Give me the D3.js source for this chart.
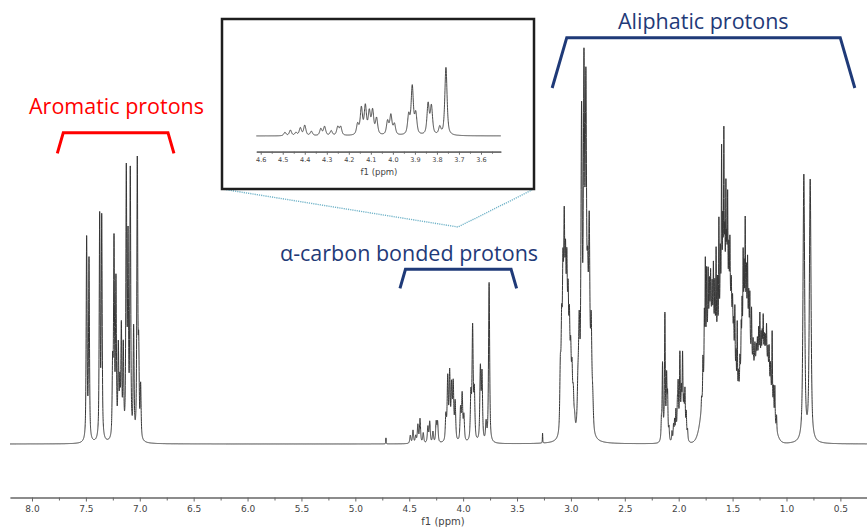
<!DOCTYPE html>
<html>
<head>
<meta charset="utf-8">
<script src="https://cdn.jsdelivr.net/npm/d3@7/dist/d3.min.js"></script>
<style>
	body { margin: 0; background: #fff; }
	svg { display: block; }
</style>
</head>
<body>
<div id="chart"></div>
<script>
// lines: [ppm, height, half width (ppm)]
const aromaticPeaks = [
	[7.493, 202, 0.005], [7.471, 180, 0.005],
	[7.372, 222, 0.005], [7.353, 220, 0.005],
	[7.252, 70, 0.005], [7.239, 194, 0.005], [7.221, 154, 0.005],
	[7.199, 88, 0.005], [7.185, 50, 0.005], [7.171, 108, 0.005], [7.153, 88, 0.005],
	[7.125, 262, 0.005], [7.109, 190, 0.005], [7.088, 264, 0.005],
	[7.057, 108, 0.005], [7.023, 276, 0.005], [7.010, 84, 0.005], [6.992, 52, 0.005]
];

const alphaPeaks = [
	[4.716, 6, 0.002],
	[4.490, 8, 0.006], [4.465, 13, 0.006], [4.440, 7, 0.006], [4.420, 18, 0.006],
	[4.400, 24, 0.006], [4.370, 10, 0.006], [4.327, 16, 0.006], [4.310, 21, 0.006],
	[4.280, 11, 0.006], [4.250, 20, 0.006], [4.237, 20, 0.006],
	[4.160, 25, 0.006], [4.143, 62, 0.006], [4.125, 66, 0.006], [4.107, 52, 0.006],
	[4.092, 55, 0.006], [4.074, 38, 0.006],
	[4.024, 32, 0.006], [4.009, 46, 0.006], [3.993, 25, 0.006],
	[3.928, 45, 0.006], [3.912, 112, 0.006], [3.896, 48, 0.006],
	[3.840, 72, 0.006], [3.825, 66, 0.006], [3.787, 18, 0.006], [3.759, 160, 0.006],
	[3.263, 10, 0.002]
];

const aliphaticPeaks = [
	// 3.06 multiplet
	[3.098, 62, 0.006], [3.086, 95, 0.006], [3.074, 140, 0.006], [3.062, 180, 0.006],
	[3.050, 140, 0.006], [3.038, 140, 0.006], [3.026, 112, 0.006], [3.014, 95, 0.006],
	[3.002, 70, 0.006], [2.990, 56, 0.006], [2.978, 36, 0.006], [2.966, 13, 0.006],
	// 2.88 multiplet
	[2.935, 40, 0.007], [2.923, 95, 0.007], [2.901, 305, 0.007], [2.879, 340, 0.007],
	[2.861, 318, 0.007], [2.845, 120, 0.007], [2.830, 190, 0.007], [2.812, 100, 0.007],
	[2.798, 30, 0.007],
	// 2.15 and 2.0 multiplets
	[2.160, 18, 0.004], [2.150, 70, 0.004], [2.128, 115, 0.004], [2.112, 55, 0.004],
	[2.103, 40, 0.004], [2.090, 12, 0.004],
	[2.062, 10, 0.004], [2.048, 15, 0.004], [2.038, 18, 0.004], [2.026, 25, 0.004],
	[2.012, 25, 0.004], [2.005, 42, 0.004], [1.989, 70, 0.004], [1.975, 32, 0.004],
	[1.964, 70, 0.004], [1.952, 28, 0.004], [1.942, 42, 0.004], [1.930, 24, 0.004],
	[1.918, 10, 0.004],
	// 1.8 - 1.1 envelope lines
	[1.788, 10, 0.003], [1.775, 35, 0.003], [1.762, 60, 0.003], [1.753, 100, 0.003],
	[1.741, 75, 0.003], [1.727, 60, 0.003], [1.715, 40, 0.003], [1.704, 45, 0.003],
	[1.690, 35, 0.003], [1.678, 60, 0.003], [1.665, 50, 0.003], [1.653, 90, 0.003],
	[1.640, 60, 0.003], [1.627, 110, 0.003], [1.614, 60, 0.003], [1.602, 145, 0.003],
	[1.591, 60, 0.003], [1.581, 150, 0.003], [1.572, 50, 0.003], [1.562, 105, 0.003],
	[1.554, 50, 0.003], [1.546, 100, 0.003], [1.535, 50, 0.003], [1.525, 60, 0.003],
	[1.512, 30, 0.003], [1.500, 30, 0.003], [1.490, 25, 0.003], [1.479, 60, 0.003],
	[1.468, 30, 0.003], [1.457, 70, 0.003], [1.445, 20, 0.003], [1.432, 25, 0.003],
	[1.420, 40, 0.003], [1.412, 50, 0.003], [1.402, 85, 0.003], [1.393, 60, 0.003],
	[1.383, 100, 0.003], [1.372, 50, 0.003], [1.361, 65, 0.003], [1.350, 40, 0.003],
	[1.340, 50, 0.003], [1.324, 50, 0.003], [1.310, 25, 0.003], [1.293, 20, 0.003],
	[1.280, 15, 0.003], [1.270, 20, 0.003], [1.258, 30, 0.003], [1.247, 45, 0.003],
	[1.235, 25, 0.003], [1.225, 25, 0.003], [1.216, 40, 0.003], [1.205, 20, 0.003],
	[1.195, 20, 0.003], [1.185, 35, 0.003], [1.172, 20, 0.003], [1.161, 30, 0.003],
	[1.147, 25, 0.003], [1.133, 70, 0.003], [1.120, 25, 0.003], [1.108, 35, 0.003],
	[1.092, 15, 0.003],
	// methyl doublet
	[0.839, 266, 0.009], [0.780, 261, 0.009]
];

// unresolved humps: [centre ppm, height, sigma (ppm)]
const broadBands = [
	[2.13, 12, 0.02], [1.98, 18, 0.03],
	[1.70, 125, 0.055], [1.59, 120, 0.03], [1.52, 130, 0.035],
	[1.375, 120, 0.045], [1.28, 40, 0.03], [1.20, 85, 0.055]
];

const mainTicks = [8.0, 7.5, 7.0, 6.5, 6.0, 5.5, 5.0, 4.5, 4.0, 3.5, 3.0, 2.5, 2.0, 1.5, 1.0, 0.5];
const insetTicks = [4.6, 4.5, 4.4, 4.3, 4.2, 4.1, 4.0, 3.9, 3.8, 3.7, 3.6];

const groups = [
	{ label: 'Aromatic protons', color: '#ff0000', from: 7.765, to: 6.683 },
	{ label: 'α-carbon bonded protons', color: '#1f3a78', from: 4.586, to: 3.504 },
	{ label: 'Aliphatic protons', color: '#1f3a78', from: 3.174, to: 0.366 }
];

window.onload = function() {

	const width = 867;
	const height = 529;

	const allPeaks = aromaticPeaks.concat(alphaPeaks, aliphaticPeaks);
	const lorentzShare = 0.65; // pseudo-Voigt mix, keeps the feet of the lines narrow

	function intensity(ppm) {
		let s = 0;
		allPeaks.forEach(p => {
			const d = ppm - p[0];
			const w2 = p[2] * p[2];
			const lor = w2 / (d * d + w2);
			const gau = Math.exp(-Math.LN2 * d * d / w2);
			s += p[1] * (lorentzShare * lor + (1 - lorentzShare) * gau);
		});
		broadBands.forEach(b => {
			const d = ppm - b[0];
			s += b[1] * Math.exp(-d * d / (2 * b[2] * b[2]));
		});
		return s;
	}

	function sample(from, to, step) {
		return d3.range(from, to, -step).map(p => [p, intensity(p)]);
	}

	const svg = d3.select('#chart')
		.append('svg')
		.attr('width', width)
		.attr('height', height)
		.style('font-family', 'DejaVu Sans, Verdana, sans-serif');

	// main spectrum
	const xScale = d3.scaleLinear()
		.domain([8.204, 0.253])
		.range([10, 867]);

	const yScale = d3.scaleLinear()
		.domain([0, 400])
		.range([444, 44]);

	const line = d3.line()
		.x(d => xScale(d[0]))
		.y(d => yScale(d[1]));

	svg.append('path')
		.attr('d', line(sample(8.204, 0.253, 0.0005)))
		.attr('fill', 'none')
		.attr('stroke', '#353535')
		.attr('stroke-width', 1);

	const axisY = 497.5;

	const minorAxis = d3.axisBottom(xScale)
		.tickValues(mainTicks.map(t => t - 0.25).filter(t => t > 0.3))
		.tickFormat('')
		.tickSize(3)
		.tickSizeOuter(0);

	svg.append('g')
		.attr('transform', `translate(0, ${axisY})`)
		.call(minorAxis);

	const xAxis = d3.axisBottom(xScale)
		.tickValues(mainTicks)
		.tickFormat(d3.format('.1f'))
		.tickSize(4)
		.tickPadding(4)
		.tickSizeOuter(0);

	svg.append('g')
		.attr('id', 'xAxisG')
		.attr('transform', `translate(0, ${axisY})`)
		.call(xAxis)
		.call(g => g.selectAll('text').attr('font-size', 9).attr('font-family', 'DejaVu Sans').attr('fill', '#444'));

	svg.selectAll('.domain').attr('stroke', '#666').attr('stroke-width', 1.3);
	svg.selectAll('.tick line').attr('stroke', '#666');

	svg.append('text')
		.attr('x', 443)
		.attr('y', 525)
		.attr('text-anchor', 'middle')
		.attr('font-size', 10)
		.attr('fill', '#444')
		.text('f1 (ppm)');

	// inset zoom on the alpha region
	const box = { x: 222, y: 19, w: 312, h: 170 };

	svg.append('polyline')
		.attr('points', `${box.x},${box.y + box.h} 458,227 ${box.x + box.w - 2},${box.y + box.h + 1}`)
		.attr('fill', 'none')
		.attr('stroke', '#72b4c9')
		.attr('stroke-width', 1.4)
		.attr('stroke-dasharray', '1.2,1');

	svg.append('rect')
		.attr('x', box.x)
		.attr('y', box.y)
		.attr('width', box.w)
		.attr('height', box.h)
		.attr('fill', '#fff')
		.attr('stroke', '#1e1e1e')
		.attr('stroke-width', 2.5);

	const xInset = d3.scaleLinear()
		.domain([4.62, 3.51])
		.range([256.3, 500.8]);

	const yInset = d3.scaleLinear()
		.domain([0, 400])
		.range([136, -34]);

	const insetLine = d3.line()
		.x(d => xInset(d[0]))
		.y(d => yInset(d[1]));

	svg.append('path')
		.attr('d', insetLine(sample(4.62, 3.51, 0.0005)))
		.attr('fill', 'none')
		.attr('stroke', '#353535')
		.attr('stroke-width', 0.9);

	const insetAxisY = 151.7;

	svg.append('g')
		.attr('transform', `translate(0, ${insetAxisY})`)
		.call(d3.axisBottom(xInset)
			.tickValues(insetTicks.map(t => t - 0.05))
			.tickFormat('')
			.tickSize(2)
			.tickSizeOuter(0));

	svg.append('g')
		.attr('transform', `translate(0, ${insetAxisY})`)
		.call(d3.axisBottom(xInset)
			.tickValues(insetTicks)
			.tickFormat(d3.format('.1f'))
			.tickSize(3)
			.tickPadding(3)
			.tickSizeOuter(0))
		.call(g => g.selectAll('text').attr('font-size', 6.5).attr('font-family', 'DejaVu Sans').attr('fill', '#444'));

	svg.selectAll('.domain').attr('stroke', '#666').attr('stroke-width', 1.2);
	svg.selectAll('.tick line').attr('stroke', '#666');

	svg.append('text')
		.attr('x', 379)
		.attr('y', 175)
		.attr('text-anchor', 'middle')
		.attr('font-size', 8.5)
		.attr('fill', '#444')
		.text('f1 (ppm)');

	// region labels with brackets
	const labelLayout = [
		{ tx: 29, ty: 114.3, top: 132.7, bottom: 153.3 },
		{ tx: 280, ty: 261, top: 269.3, bottom: 288.3 },
		{ tx: 618, ty: 29.3, top: 37.7, bottom: 88 }
	];

	groups.forEach((g, i) => {
		const l = labelLayout[i];
		const x0 = xScale(g.from);
		const x1 = xScale(g.to);
		const slant = (l.bottom - l.top) * 0.29;
		svg.append('path')
			.attr('d', `M${x0},${l.bottom}L${x0 + slant},${l.top}L${x1 - slant},${l.top}L${x1},${l.bottom}`)
			.attr('fill', 'none')
			.attr('stroke', g.color)
			.attr('stroke-width', 3);
		svg.append('text')
			.attr('x', l.tx)
			.attr('y', l.ty)
			.attr('font-family', 'Open Sans')
			.attr('font-size', 21.5)
			.attr('fill', g.color)
			.text(g.label);
	});
}
</script>
</body>
</html>
